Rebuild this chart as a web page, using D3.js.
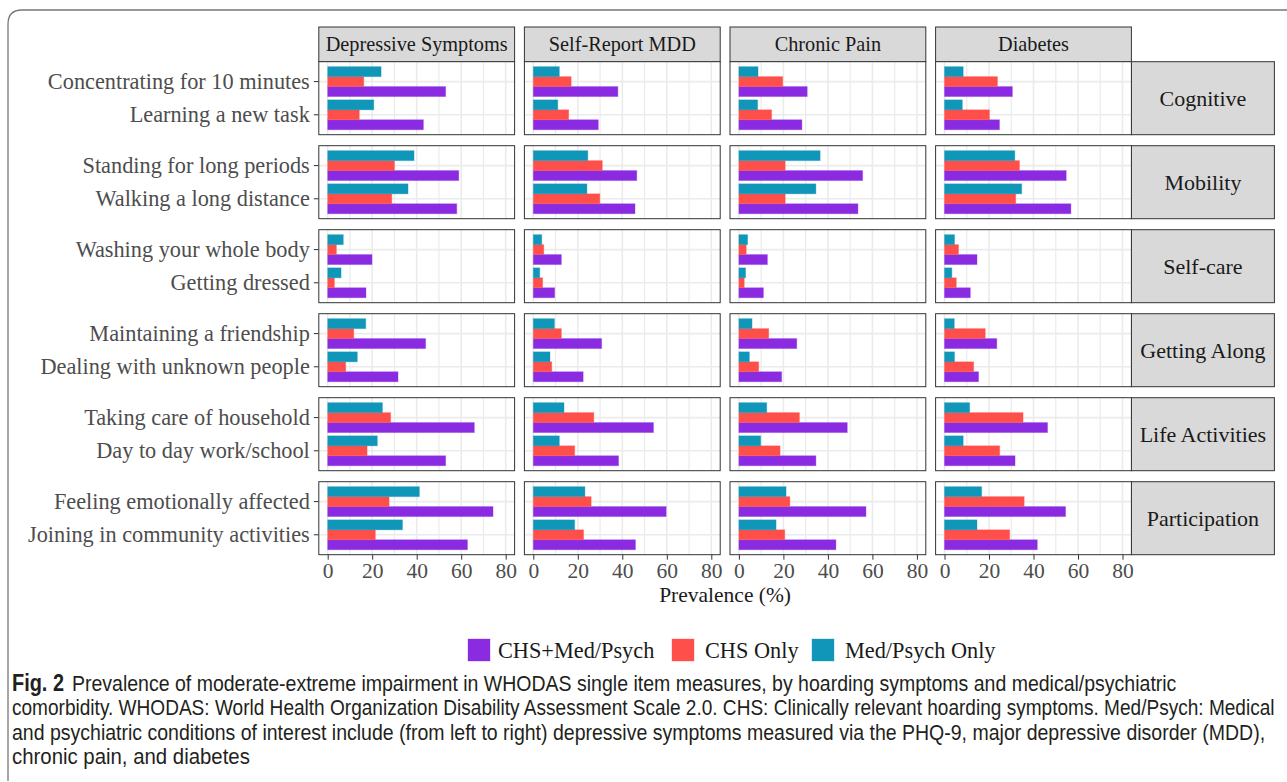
<!DOCTYPE html>
<html>
<head>
<meta charset="utf-8">
<script src="https://cdn.jsdelivr.net/npm/d3@7"></script>
<style>
  html, body { margin: 0; padding: 0; background: #fff; }
  svg { display: block; }
</style>
</head>
<body>
<svg id="chart" width="1287" height="782"></svg>
<script>
// ---------------- DATA ----------------
const conditions = ["Depressive Symptoms", "Self-Report MDD", "Chronic Pain", "Diabetes"];
const domains = ["Cognitive", "Mobility", "Self-care", "Getting Along", "Life Activities", "Participation"];
const items = [
  ["Concentrating for 10 minutes", "Learning a new task"],
  ["Standing for long periods", "Walking a long distance"],
  ["Washing your whole body", "Getting dressed"],
  ["Maintaining a friendship", "Dealing with unknown people"],
  ["Taking care of household", "Day to day work/school"],
  ["Feeling emotionally affected", "Joining in community activities"]
];
const seriesNames = ["CHS+Med/Psych", "CHS Only", "Med/Psych Only"];
const seriesColors = ["#8A2BE2", "#FF4F4A", "#1096B9"];
const xTicks = [0, 20, 40, 60, 80];
const xMinorTicks = [10, 30, 50, 70];

// values per condition (12 items in the order of `items`, flattened)
const chsMedPsych = [
  [53.0, 43.0, 58.9, 58.0, 19.9, 17.2, 44.0, 31.6, 65.9, 53.0, 74.3, 62.8],
  [38.0, 29.2, 46.5, 45.7, 12.6, 9.6, 30.7, 22.4, 54.0, 38.3, 59.7, 45.9],
  [30.7, 28.3, 55.6, 53.5, 12.8, 11.0, 26.0, 19.2, 48.7, 34.6, 57.1, 43.6],
  [30.5, 24.7, 54.7, 56.8, 14.6, 11.6, 23.5, 15.3, 46.3, 31.7, 54.4, 41.7]
];
const chsOnly = [
  [16.2, 14.2, 30.0, 28.8, 3.9, 3.0, 11.7, 8.1, 28.3, 17.7, 27.6, 21.4],
  [17.0, 15.9, 31.0, 29.9, 4.7, 4.2, 12.6, 8.3, 27.2, 18.6, 26.0, 22.6],
  [19.7, 14.7, 20.8, 20.8, 3.3, 2.4, 13.4, 8.9, 27.2, 18.5, 22.9, 20.6],
  [23.8, 20.2, 33.7, 32.0, 6.3, 5.3, 18.3, 13.1, 35.3, 24.8, 35.8, 29.3]
];
const medPsychOnly = [
  [24.0, 20.7, 38.8, 36.1, 7.0, 6.0, 17.1, 13.3, 24.6, 22.3, 41.2, 33.6],
  [11.7, 11.0, 24.5, 24.1, 3.8, 2.9, 9.5, 7.5, 13.8, 11.7, 23.2, 18.6],
  [8.6, 8.4, 36.5, 34.6, 3.9, 3.0, 5.9, 4.7, 12.5, 9.8, 21.2, 16.7],
  [8.4, 8.0, 31.6, 34.7, 4.5, 3.3, 4.4, 4.5, 11.3, 8.4, 16.7, 14.6]
];
const seriesValues = [chsMedPsych, chsOnly, medPsychOnly];
const xLabel = "Prevalence (%)";
const captionBold = "Fig. 2";
const captionLines = [
  "Prevalence of moderate-extreme impairment in WHODAS single item measures, by hoarding symptoms and medical/psychiatric",
  "comorbidity. WHODAS: World Health Organization Disability Assessment Scale 2.0. CHS: Clinically relevant hoarding symptoms. Med/Psych: Medical",
  "and psychiatric conditions of interest include (from left to right) depressive symptoms measured via the PHQ-9, major depressive disorder (MDD),",
  "chronic pain, and diabetes"
];

// ---------------- LAYOUT ----------------
const SERIF = "'Liberation Serif', 'Times New Roman', serif";
const SANS = "'Liberation Sans Narrow', 'Arial Narrow', 'Liberation Sans', sans-serif";
const panelLeft0 = 318.8, panelW = 195.8, colStep = 205.6;
const panelTop0 = 61.7, panelH = 73, rowStep = 84;
const stripTop = 27;
const rightStripW = 143;
const gridCol = "#EBEBEB", borderCol = "#333333", textCol = "#4D4D4D";

const svg = d3.select("#chart");

// outer frame
svg.append("path")
  .attr("d", "M8,781 L8,24 Q8,10 22,10 L1295,10")
  .attr("fill", "none").attr("stroke", "#777").attr("stroke-width", 1.3);

const x = d3.scaleLinear().domain([-4, 84]).range([0, panelW]);
const yCat = d3.scalePoint().domain([0, 1]).range([panelH * 0.6 / 2.2, panelH * 1.6 / 2.2]);
const barBand = panelH * 0.9 / 2.2;
const ySeries = d3.scaleBand().domain([2, 1, 0]).range([-barBand / 2, barBand / 2]).padding(0);

// top strips
conditions.forEach((c, ci) => {
  const gx = panelLeft0 + ci * colStep;
  svg.append("rect").attr("x", gx).attr("y", stripTop)
    .attr("width", panelW).attr("height", panelTop0 - stripTop)
    .attr("fill", "#D9D9D9").attr("stroke", borderCol).attr("stroke-width", 1);
  svg.append("text").attr("x", gx + panelW / 2).attr("y", stripTop + (panelTop0 - stripTop) / 2 + 7)
    .attr("text-anchor", "middle").attr("font-family", SERIF).attr("font-size", 20.3)
    .attr("fill", "#1A1A1A").text(c);
});

domains.forEach((dname, ri) => {
  const gy = panelTop0 + ri * rowStep;
  // right strip
  const rsx = panelLeft0 + 3 * colStep + panelW;
  svg.append("rect").attr("x", rsx).attr("y", gy)
    .attr("width", rightStripW).attr("height", panelH)
    .attr("fill", "#D9D9D9").attr("stroke", borderCol).attr("stroke-width", 1);
  svg.append("text").attr("x", rsx + rightStripW / 2).attr("y", gy + panelH / 2 + 7.5)
    .attr("text-anchor", "middle").attr("font-family", SERIF).attr("font-size", 22)
    .attr("fill", "#1A1A1A").text(dname);

  // left labels and ticks
  items[ri].forEach((lab, k) => {
    const yy = gy + yCat(k);
    svg.append("line").attr("x1", panelLeft0 - 5).attr("x2", panelLeft0)
      .attr("y1", yy).attr("y2", yy).attr("stroke", borderCol).attr("stroke-width", 1);
    svg.append("text").attr("x", panelLeft0 - 9).attr("y", yy + 7.5)
      .attr("text-anchor", "end").attr("font-family", SERIF).attr("font-size", 22.3)
      .attr("fill", textCol).text(lab);
  });

  conditions.forEach((c, ci) => {
    const gx = panelLeft0 + ci * colStep;
    const g = svg.append("g").attr("transform", `translate(${gx},${gy})`);
    g.append("rect").attr("width", panelW).attr("height", panelH).attr("fill", "#fff");
    // grid
    g.selectAll(".gmin").data(xMinorTicks).join("line")
      .attr("x1", d => x(d)).attr("x2", d => x(d)).attr("y1", 0).attr("y2", panelH)
      .attr("stroke", gridCol).attr("stroke-width", 1.2);
    g.selectAll(".gmaj").data(xTicks).join("line")
      .attr("x1", d => x(d)).attr("x2", d => x(d)).attr("y1", 0).attr("y2", panelH)
      .attr("stroke", gridCol).attr("stroke-width", 1.6);
    g.selectAll(".gy").data([0, 1]).join("line")
      .attr("x1", 0).attr("x2", panelW).attr("y1", d => yCat(d)).attr("y2", d => yCat(d))
      .attr("stroke", gridCol).attr("stroke-width", 1.6);
    // bars
    [0, 1].forEach(k => {
      const idx = ri * 2 + k;
      seriesNames.forEach((s, si) => {
        const v = seriesValues[si][ci][idx];
        g.append("rect")
          .attr("x", x(0)).attr("y", yCat(k) + ySeries(si))
          .attr("width", x(v) - x(0)).attr("height", ySeries.bandwidth())
          .attr("fill", seriesColors[si])
          .attr("stroke", seriesColors[si]).attr("stroke-opacity", 0.35).attr("stroke-width", 1);
      });
    });
    g.append("rect").attr("width", panelW).attr("height", panelH)
      .attr("fill", "none").attr("stroke", borderCol).attr("stroke-width", 1);

    // bottom axis
    if (ri === domains.length - 1) {
      const ax = g.append("g").attr("transform", `translate(0,${panelH})`)
        .call(d3.axisBottom(x).tickValues(xTicks).tickSize(5).tickPadding(3).tickFormat(d3.format("d")));
      ax.select(".domain").remove();
      ax.selectAll("line").attr("stroke", borderCol);
      ax.selectAll("text").attr("font-family", SERIF).attr("font-size", 21.5)
        .attr("fill", textCol);
    }
  });
});

// x label
const plotMid = panelLeft0 + (3 * colStep + panelW) / 2;
svg.append("text").attr("x", plotMid).attr("y", 602)
  .attr("text-anchor", "middle").attr("font-family", SERIF).attr("font-size", 21.5)
  .attr("fill", "#1A1A1A").text(xLabel);

// legend
const legendItems = [
  { sx: 468, tx: 498 },
  { sx: 672, tx: 705 },
  { sx: 812, tx: 845 }
];
seriesNames.forEach((s, i) => {
  const L = legendItems[i];
  svg.append("rect").attr("x", L.sx).attr("y", 639).attr("width", 22).attr("height", 22)
    .attr("fill", seriesColors[i]).attr("stroke", seriesColors[i]).attr("stroke-opacity", 0.35);
  svg.append("text").attr("x", L.tx).attr("y", 658)
    .attr("font-family", SERIF).attr("font-size", 22.3).attr("fill", "#1A1A1A").text(s);
});

// caption: text drawn at a taller size and condensed horizontally to fit its line
const capY = [690.5, 715, 739.5, 764];
const capEnds = [1177, 1275, 1266, 250];
function fitText(str, x0, y0, target, bold) {
  const t = svg.append("text").attr("x", 0).attr("y", 0)
    .attr("font-family", SANS).attr("font-size", bold ? 23 : 22.5)
    .attr("font-weight", bold ? "bold" : "normal")
    .attr("fill", "#231F20").text(str);
  const w = t.node().getComputedTextLength();
  const s = Math.min(1, target / w);
  t.attr("transform", `translate(${x0},${y0}) scale(${s},1)`);
}
fitText(captionBold, 12, capY[0], 52, true);
captionLines.forEach((line, i) => {
  const x0 = i === 0 ? 72 : 12;
  fitText(line, x0, capY[i], capEnds[i] - x0, false);
});
</script>
</body>
</html>
